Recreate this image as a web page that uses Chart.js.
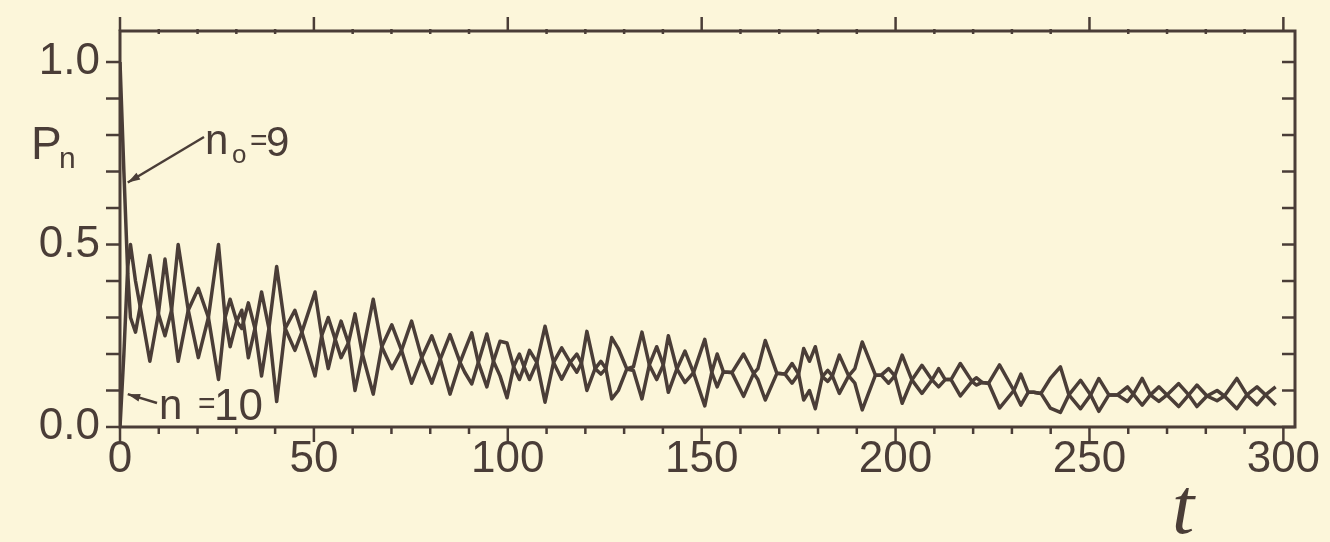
<!DOCTYPE html>
<html>
<head>
<meta charset="utf-8">
<script src="https://cdn.jsdelivr.net/npm/chart.js@4.4.1/dist/chart.umd.min.js"></script>
<style>
  html, body { margin: 0; padding: 0; background: #fcf6da; }
  #wrap { width: 1330px; height: 542px; }
</style>
</head>
<body>
<div id="wrap"><canvas id="chart" width="1330" height="542"></canvas></div>
<script>
// time points (crossings and turning points of the two curves)
const times = [
  0, 1.0, 2.0, 2.7, 4.0, 5.2, 7.7, 9.9, 11.6, 13.3, 15.0, 17.6, 20.2, 22.8, 25.4, 27.1, 28.4, 30.1, 31.4, 33.1,
  34.8, 36.5, 38.4, 40.4, 42.6, 45.1, 46.9, 50.3, 52.0, 53.7, 55.5, 57.0, 58.9, 60.6, 62.5, 65.3, 67.5, 70.1, 72.6, 75.2,
  77.8, 80.4, 82.6, 85.1, 87.7, 88.9, 90.7, 92.4, 94.6, 96.3, 98.0, 99.8, 101.5, 103.0, 104.2, 105.6, 107.5, 109.6, 111.8, 113.9,
  116.1, 117.8, 119.0, 120.4, 122.5, 124.0, 125.3, 126.8, 128.5, 130.7, 132.4, 134.6, 136.5, 138.4, 140.1, 141.4, 143.6, 145.7, 147.9, 150.8,
  152.6, 154.0, 155.6, 157.8, 160.8, 163.4, 164.5, 166.4, 169.4, 171.5, 173.3, 175.0, 176.3, 177.8, 179.3, 181.1, 182.5, 183.7, 185.5, 187.9,
  189.5, 191.4, 194.8, 196.3, 198.2, 199.8, 201.7, 204.2, 206.8, 209.4, 211.1, 212.8, 214.3, 216.7, 219.7, 220.8, 222.3, 224.0, 226.8, 230.5,
  232.3, 234.2, 235.6, 237.5, 239.9, 242.5, 244.7, 247.7, 250.3, 252.4, 255.0, 257.2, 259.8, 261.3, 263.6, 265.7, 267.9, 270.0, 273.0, 275.6,
  277.7, 280.3, 282.9, 284.8, 288.0, 290.6, 293.2, 295.4, 298.0
];

// P_n for the starting site n0 = 9
const pN9 = [
  1.00, 0.70, 0.42, 0.30, 0.26, 0.33, 0.47, 0.31, 0.25, 0.32, 0.50, 0.32, 0.19, 0.30, 0.50, 0.30, 0.22, 0.29, 0.32, 0.19,
  0.27, 0.37, 0.27, 0.07, 0.27, 0.32, 0.26, 0.14, 0.25, 0.30, 0.24, 0.19, 0.23, 0.31, 0.20, 0.09, 0.22, 0.28, 0.21, 0.12,
  0.19, 0.25, 0.186, 0.09, 0.177, 0.21, 0.258, 0.177, 0.11, 0.18, 0.235, 0.23, 0.165, 0.13, 0.165, 0.21, 0.177, 0.068, 0.177, 0.217,
  0.177, 0.15, 0.175, 0.262, 0.16, 0.145, 0.16, 0.245, 0.215, 0.159, 0.155, 0.077, 0.17, 0.22, 0.17, 0.095, 0.159, 0.208, 0.149, 0.058,
  0.15, 0.20, 0.151, 0.149, 0.084, 0.147, 0.16, 0.237, 0.147, 0.145, 0.12, 0.145, 0.215, 0.18, 0.22, 0.138, 0.125, 0.14, 0.197, 0.14,
  0.12, 0.047, 0.142, 0.142, 0.16, 0.14, 0.065, 0.129, 0.169, 0.129, 0.11, 0.13, 0.13, 0.174, 0.125, 0.115, 0.122, 0.12, 0.052, 0.10,
  0.145, 0.095, 0.095, 0.092, 0.052, 0.04, 0.088, 0.128, 0.088, 0.043, 0.088, 0.088, 0.11, 0.09, 0.06, 0.088, 0.11, 0.088, 0.056, 0.088,
  0.115, 0.085, 0.072, 0.085, 0.133, 0.088, 0.061, 0.088, 0.11
];

// P_n for the neighbouring site n = 10
const pN10 = [
  0.00, 0.20, 0.44, 0.50, 0.40, 0.33, 0.18, 0.31, 0.46, 0.32, 0.18, 0.32, 0.38, 0.30, 0.13, 0.30, 0.35, 0.29, 0.27, 0.34,
  0.27, 0.14, 0.27, 0.44, 0.27, 0.21, 0.26, 0.37, 0.25, 0.16, 0.24, 0.29, 0.23, 0.10, 0.20, 0.35, 0.22, 0.16, 0.21, 0.29,
  0.19, 0.12, 0.186, 0.253, 0.177, 0.15, 0.118, 0.177, 0.255, 0.18, 0.14, 0.08, 0.165, 0.20, 0.165, 0.13, 0.177, 0.276, 0.177, 0.131,
  0.177, 0.20, 0.175, 0.10, 0.16, 0.18, 0.16, 0.077, 0.10, 0.159, 0.165, 0.26, 0.17, 0.13, 0.17, 0.25, 0.159, 0.122, 0.149, 0.24,
  0.15, 0.11, 0.151, 0.149, 0.20, 0.147, 0.13, 0.074, 0.147, 0.145, 0.174, 0.145, 0.074, 0.10, 0.05, 0.138, 0.155, 0.14, 0.092, 0.14,
  0.16, 0.233, 0.142, 0.142, 0.12, 0.14, 0.197, 0.129, 0.092, 0.129, 0.16, 0.13, 0.13, 0.085, 0.125, 0.135, 0.122, 0.12, 0.17, 0.10,
  0.06, 0.095, 0.095, 0.092, 0.133, 0.165, 0.088, 0.05, 0.088, 0.133, 0.088, 0.088, 0.07, 0.09, 0.133, 0.088, 0.07, 0.088, 0.119, 0.088,
  0.056, 0.085, 0.10, 0.085, 0.05, 0.088, 0.11, 0.088, 0.06
];

const xTickValues = [0, 50, 100, 150, 200, 250, 300];
const yTickValues = [0, 0.5, 1.0];
const X_MAX = 303;
const Y_MAX = 1.085;

const INK = "#4a3d37";

const toPoints = (vals) => times.map((t, i) => ({ x: t, y: vals[i] }));

const line = (ctx, x1, y1, x2, y2) => {
  ctx.beginPath();
  ctx.moveTo(x1, y1);
  ctx.lineTo(x2, y2);
  ctx.stroke();
};

const arrow = (ctx, x1, y1, x2, y2) => {
  line(ctx, x1, y1, x2, y2);
  const a = Math.atan2(y2 - y1, x2 - x1);
  const len = 13, w = 0.3;
  ctx.beginPath();
  ctx.moveTo(x2, y2);
  ctx.lineTo(x2 - len * Math.cos(a - w), y2 - len * Math.sin(a - w));
  ctx.lineTo(x2 - len * Math.cos(a + w), y2 - len * Math.sin(a + w));
  ctx.closePath();
  ctx.fill();
};

// frame with tick marks on all four sides
const framePlugin = {
  id: "frame",
  afterDraw(chart) {
    const { ctx, chartArea: a } = chart;
    const x = chart.scales.x, y = chart.scales.y;
    ctx.save();
    ctx.strokeStyle = INK;
    ctx.fillStyle = INK;
    ctx.lineWidth = 3;
    ctx.strokeRect(a.left, a.top, a.right - a.left, a.bottom - a.top);
    ctx.lineWidth = 2.5;
    for (let v = 0; v <= 300; v += 10) {
      const px = x.getPixelForValue(v);
      const major = v % 50 === 0;
      line(ctx, px, a.bottom, px, a.bottom + (major ? 15 : 7));
      if (major) line(ctx, px, a.top, px, a.top - 14);
      else line(ctx, px, a.top - 2, px, a.top + 3);
    }
    for (let k = 0; k <= 10; k++) {
      const py = y.getPixelForValue(k / 10);
      line(ctx, a.left - 14, py, a.left, py);
      line(ctx, a.right - 13, py, a.right, py);
    }
    ctx.restore();
  },
};

// axis titles and curve labels
const labelPlugin = {
  id: "labels",
  afterDraw(chart) {
    const { ctx } = chart;
    const x = chart.scales.x, y = chart.scales.y;
    ctx.save();
    ctx.fillStyle = INK;
    ctx.strokeStyle = INK;
    ctx.textBaseline = "alphabetic";
    ctx.textAlign = "left";

    ctx.font = "46px 'Liberation Sans', Arial, sans-serif";
    ctx.fillText("P", 31, 159);
    ctx.font = "30px 'Liberation Sans', Arial, sans-serif";
    ctx.fillText("n", 59, 168);

    ctx.font = "42px 'Liberation Sans', Arial, sans-serif";
    ctx.fillText("n", 205, 154);
    ctx.font = "26px 'Liberation Sans', Arial, sans-serif";
    ctx.fillText("o", 232, 163);
    ctx.font = "30px 'Liberation Sans', Arial, sans-serif";
    ctx.fillText("=", 250, 150);
    ctx.font = "42px 'Liberation Sans', Arial, sans-serif";
    ctx.fillText("9", 266, 156);

    ctx.font = "42px 'Liberation Sans', Arial, sans-serif";
    ctx.fillText("n", 159, 419);
    ctx.font = "30px 'Liberation Sans', Arial, sans-serif";
    ctx.fillText("=", 198, 413);
    ctx.font = "44px 'Liberation Sans', Arial, sans-serif";
    ctx.fillText("10", 214, 420);

    ctx.font = "italic 80px 'Liberation Serif', 'Times New Roman', serif";
    ctx.fillText("t", 1172, 533);

    ctx.lineWidth = 2.5;
    arrow(ctx, 204, 137, x.getPixelForValue(2), y.getPixelForValue(0.67));
    arrow(ctx, 157, 403, x.getPixelForValue(2), y.getPixelForValue(0.09));
    ctx.restore();
  },
};

const lineStyle = {
  borderColor: INK,
  borderWidth: 3.5,
  pointRadius: 0,
  tension: 0,
  fill: false,
  borderJoinStyle: "round",
};

Chart.defaults.font.family = "'Liberation Sans', Arial, sans-serif";
Chart.defaults.color = INK;

new Chart(document.getElementById("chart"), {
  type: "line",
  data: {
    datasets: [
      { label: "n0 = 9", data: toPoints(pN9), ...lineStyle },
      { label: "n = 10", data: toPoints(pN10), ...lineStyle },
    ],
  },
  options: {
    responsive: false,
    animation: false,
    layout: { padding: { top: 31, right: 35, left: 0, bottom: 0 } },
    plugins: { legend: { display: false }, tooltip: { enabled: false } },
    scales: {
      x: {
        type: "linear",
        min: 0,
        max: X_MAX,
        afterFit: (s) => { s.height = 115; s.paddingLeft = 0; s.paddingRight = 0; },
        afterBuildTicks: (s) => { s.ticks = xTickValues.map((v) => ({ value: v })); },
        ticks: {
          font: { size: 44 },
          color: INK,
          padding: 6,
          maxRotation: 0,
          autoSkip: false,
          callback: (v) => String(v),
        },
        grid: { display: false, drawTicks: false },
        border: { display: false },
      },
      y: {
        min: 0,
        max: Y_MAX,
        afterFit: (s) => { s.width = 120; s.paddingTop = 0; s.paddingBottom = 0; },
        afterBuildTicks: (s) => { s.ticks = yTickValues.map((v) => ({ value: v })); },
        ticks: {
          font: { size: 44 },
          color: INK,
          padding: 20,
          callback: (v) => Number(v).toFixed(1),
        },
        grid: { display: false, drawTicks: false },
        border: { display: false },
      },
    },
  },
  plugins: [framePlugin, labelPlugin],
});
</script>
</body>
</html>
